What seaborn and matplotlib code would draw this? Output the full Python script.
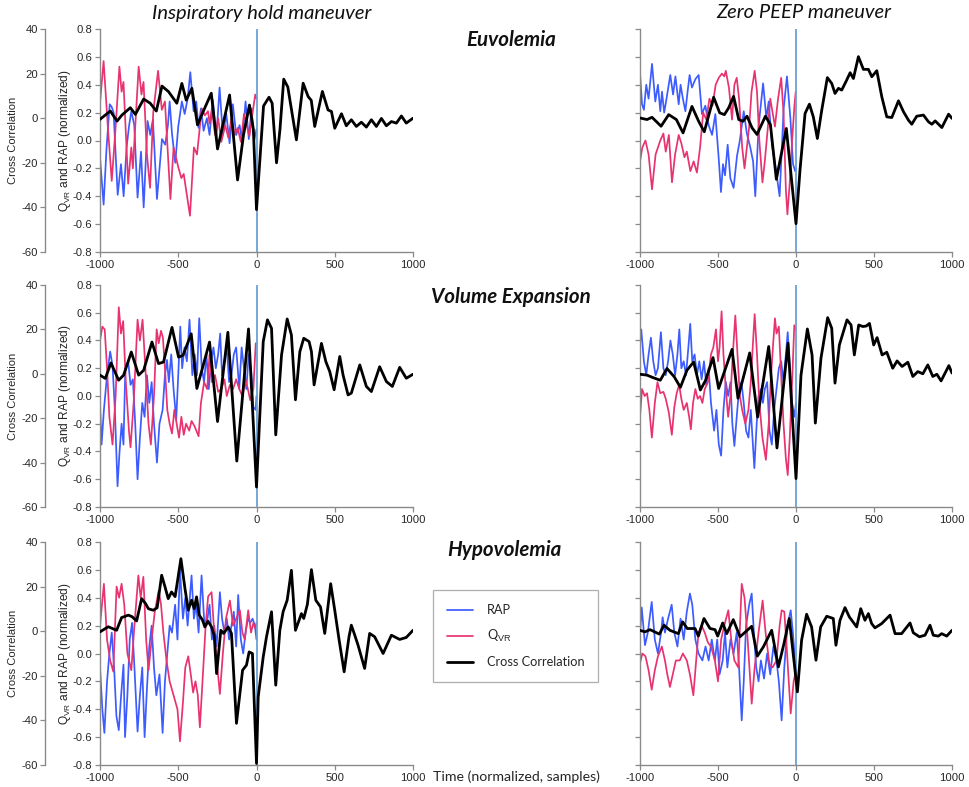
import matplotlib
matplotlib.use("Agg")
import matplotlib.pyplot as plt
import pandas as pd
import seaborn as sns

# ---------------------------------------------------------------------------
# Signals around the maneuver (time in normalized samples, 0 = maneuver onset)
# RAP and Q_VR are normalized (inner axis), cross correlation on outer axis.
# ---------------------------------------------------------------------------

# Euvolemia - inspiratory hold
rap_euv_insp = [(-1000, -0.12), (-977, -0.46), (-958, -0.05), (-938, 0.26), (-925, 0.24), (-913, 0.20),
                (-900, -0.10), (-887, -0.39), (-866, -0.17), (-849, -0.40), (-830, -0.05), (-815, 0.10),
                (-800, 0.21), (-781, 0.11), (-760, -0.41), (-738, -0.08), (-721, -0.48), (-696, 0.14),
                (-679, 0.04), (-662, 0.15), (-636, -0.42), (-604, 0.01), (-583, -0.03), (-566, 0.11),
                (-555, 0.28), (-540, 0.05), (-519, -0.16), (-500, 0.10), (-477, 0.28), (-459, 0.19),
                (-440, 0.30), (-423, 0.49), (-402, 0.21), (-385, 0.28), (-370, 0.09), (-355, 0.23),
                (-338, 0.07), (-317, 0.16), (-300, 0.04), (-279, 0.29), (-257, 0.01), (-236, 0.38),
                (-215, 0.04), (-193, 0.19), (-172, -0.02), (-151, 0.26), (-130, 0.04), (-108, 0.11),
                (-91, -0.02), (-70, 0.28), (-49, 0.01), (-32, 0.23), (-15, 0.00), (0, 0.08)]
qvr_euv_insp = [(-1000, 0.27), (-977, 0.57), (-950, 0.10), (-925, -0.29), (-900, 0.10), (-876, 0.53),
                (-862, 0.35), (-850, 0.42), (-820, -0.31), (-800, -0.05), (-790, -0.20), (-753, 0.53),
                (-735, 0.33), (-722, 0.42), (-700, -0.10), (-680, -0.34), (-660, 0.20), (-629, 0.50),
                (-605, 0.22), (-585, 0.28), (-550, -0.42), (-530, -0.05), (-500, -0.19), (-480, -0.27),
                (-465, -0.24), (-425, -0.54), (-400, -0.05), (-380, -0.10), (-350, 0.23), (-330, 0.18),
                (-310, 0.21), (-300, 0.12), (-285, 0.23), (-265, 0.04), (-245, 0.16), (-225, -0.01),
                (-200, 0.11), (-180, 0.02), (-160, 0.16), (-140, 0.04), (-120, 0.09), (-100, -0.01),
                (-80, 0.19), (-60, 0.10), (-45, 0.03), (-25, 0.20), (-8, 0.33), (0, 0.30)]
cc_euv_insp = [(-1000, -0.5), (-934, 3.2), (-891, -1.3), (-860, 1.4), (-806, 4.7), (-774, 1.7),
               (-721, 8.6), (-679, 6.7), (-640, 3.2), (-604, 14.4), (-562, 11.9), (-509, 6.7),
               (-477, 15.6), (-449, 8.1), (-413, 13.4), (-377, -3.0), (-343, 2.6), (-289, 11.2),
               (-249, -13.8), (-215, -3.0), (-172, 10.4), (-121, -27.7), (-83, -7.5), (-45, 5.9),
               (-20, -5.0), (0, -41.0), (45, 5.5), (80, 9.4), (100, 6.7), (128, -20.0), (150, -5.0),
               (174, 17.5), (200, 14.0), (255, -9.7), (298, 15.7), (330, 9.7), (350, 8.0), (372, -3.7),
               (421, 12.0), (457, 3.7), (479, 3.0), (500, -4.5), (543, 2.0), (574, -3.4), (606, -0.7),
               (638, -3.7), (670, -1.8), (702, -4.0), (734, -0.7), (766, -3.7), (798, -0.1),
               (830, -3.4), (862, -1.5), (894, -2.2), (926, 1.0), (957, -2.2), (1000, 0.0)]

# Euvolemia - zero PEEP
rap_euv_peep = [(-1000, 0.48), (-987, 0.26), (-975, 0.22), (-960, 0.40), (-945, 0.30), (-923, 0.55),
                (-902, 0.28), (-885, 0.40), (-870, 0.21), (-859, 0.35), (-845, 0.20), (-830, 0.30),
                (-806, 0.47), (-788, 0.33), (-773, 0.46), (-752, 0.26), (-740, 0.40), (-725, 0.30),
                (-709, 0.21), (-695, 0.35), (-682, 0.47), (-667, 0.38), (-645, 0.44), (-624, 0.47),
                (-603, 0.19), (-581, 0.25), (-560, 0.11), (-538, 0.04), (-517, 0.19), (-496, -0.12),
                (-481, -0.37), (-468, -0.17), (-455, -0.25), (-438, -0.03), (-421, -0.27), (-400, -0.34),
                (-378, -0.11), (-360, 0.00), (-335, 0.21), (-315, 0.05), (-293, -0.05), (-275, -0.15),
                (-261, -0.40), (-240, 0.10), (-211, 0.41), (-190, 0.16), (-175, 0.28), (-154, -0.03),
                (-130, -0.20), (-105, -0.40), (-79, 0.23), (-58, 0.46), (-36, 0.16), (-19, -0.17),
                (-5, -0.22), (0, -0.20)]
qvr_euv_peep = [(-1000, -0.15), (-985, -0.05), (-965, 0.00), (-945, -0.10), (-923, -0.35), (-900, -0.10),
                (-870, 0.00), (-850, 0.05), (-835, -0.08), (-815, 0.04), (-795, -0.30), (-775, -0.10),
                (-752, 0.04), (-735, -0.02), (-715, -0.12), (-700, -0.08), (-677, -0.22), (-656, -0.15),
                (-635, -0.23), (-615, -0.05), (-595, 0.20), (-575, 0.15), (-555, 0.30), (-535, 0.25),
                (-515, 0.40), (-495, 0.45), (-475, 0.48), (-460, 0.46), (-450, 0.50), (-430, 0.38),
                (-410, 0.15), (-395, 0.40), (-380, 0.45), (-365, 0.30), (-345, -0.05), (-330, -0.20),
                (-315, -0.05), (-300, 0.10), (-285, 0.35), (-265, 0.50), (-250, 0.35), (-235, 0.00),
                (-215, -0.30), (-200, -0.15), (-180, 0.10), (-165, 0.30), (-150, 0.20), (-135, 0.10),
                (-115, 0.30), (-95, 0.45), (-80, 0.20), (-65, -0.35), (-55, -0.53), (-40, -0.30),
                (-25, 0.00), (-10, 0.25), (-2, 0.35)]
cc_euv_peep = [(-1000, 0.1), (-955, -0.6), (-923, 0.4), (-865, -3.6), (-816, 1.6), (-767, -0.6),
               (-724, -6.6), (-667, 5.3), (-624, -1.4), (-588, -6.1), (-528, 9.4), (-489, 2.4),
               (-459, 1.6), (-432, 4.6), (-400, 9.8), (-367, -0.6), (-340, -1.4), (-314, 0.9),
               (-282, -4.3), (-250, -7.3), (-196, 0.9), (-164, -2.9), (-126, -27.4), (-62, -4.6),
               (0, -47.3), (26, -23.0), (58, 2.1), (86, 6.3), (111, 0.6), (137, -9.1), (165, 3.6),
               (201, 18.2), (229, 15.6), (250, 11.1), (272, 13.4), (293, 12.6), (325, 17.1),
               (347, 20.4), (368, 17.8), (400, 27.6), (432, 21.9), (464, 21.9), (486, 18.6),
               (518, 21.3), (550, 9.6), (582, 0.6), (614, 0.3), (657, 7.8), (689, 2.9), (721, -0.9),
               (742, -2.7), (774, 0.9), (817, 1.4), (849, -1.6), (871, -2.7), (892, -1.2),
               (935, -4.2), (978, 1.8), (1000, -0.1)]

# Volume expansion - inspiratory hold
rap_vol_insp = [(-1000, -0.05), (-990, -0.35), (-975, -0.10), (-955, 0.15), (-935, 0.32), (-920, 0.22),
                (-905, -0.10), (-888, -0.65), (-875, -0.40), (-862, -0.20), (-850, -0.35), (-838, 0.20),
                (-820, 0.25), (-805, 0.08), (-790, 0.12), (-775, -0.20), (-760, -0.60), (-745, -0.30),
                (-730, -0.05), (-715, -0.15), (-700, 0.15), (-685, -0.05), (-670, 0.10), (-655, -0.20),
                (-636, -0.48), (-620, -0.20), (-600, -0.10), (-585, 0.15), (-572, 0.26), (-560, 0.10),
                (-545, 0.30), (-530, 0.05), (-513, -0.17), (-500, 0.15), (-487, 0.50), (-475, 0.20),
                (-460, 0.35), (-445, 0.25), (-428, 0.55), (-410, 0.15), (-395, 0.30), (-380, 0.15),
                (-366, 0.56), (-350, 0.20), (-335, 0.10), (-320, 0.30), (-305, 0.05), (-290, 0.25),
                (-275, 0.35), (-260, 0.20), (-245, 0.30), (-232, 0.45), (-220, 0.15), (-205, 0.25),
                (-190, 0.35), (-175, 0.10), (-160, 0.15), (-145, 0.30), (-130, 0.35), (-110, 0.05),
                (-95, 0.35), (-80, 0.20), (-65, 0.05), (-50, 0.30), (-35, 0.20), (-20, -0.08),
                (-5, -0.10), (0, 0.00)]
qvr_vol_insp = [(-1000, 0.40), (-985, 0.50), (-970, 0.48), (-955, 0.20), (-940, -0.15), (-920, -0.35),
                (-900, 0.00), (-880, 0.64), (-866, 0.45), (-852, 0.54), (-835, 0.10), (-815, -0.25),
                (-805, -0.37), (-785, -0.05), (-760, 0.55), (-745, 0.40), (-728, 0.55), (-710, 0.20),
                (-690, -0.20), (-675, -0.35), (-655, 0.00), (-638, 0.48), (-625, 0.38), (-610, 0.47),
                (-598, 0.42), (-585, 0.20), (-570, -0.10), (-555, -0.20), (-540, -0.27), (-525, -0.10),
                (-510, -0.20), (-495, -0.30), (-480, -0.15), (-465, -0.28), (-450, -0.20), (-430, -0.25),
                (-415, -0.18), (-395, -0.22), (-370, -0.29), (-355, -0.05), (-335, 0.10), (-315, 0.05),
                (-300, 0.30), (-285, 0.10), (-265, 0.15), (-245, 0.03), (-225, 0.05), (-205, 0.12),
                (-190, 0.00), (-170, 0.08), (-150, 0.05), (-130, 0.12), (-110, 0.05), (-90, 0.00),
                (-70, 0.12), (-55, 0.05), (-40, -0.03), (-20, 0.05), (-5, 0.38), (0, 0.38)]
cc_vol_insp = [(-1000, -0.6), (-966, -2.1), (-930, 4.9), (-881, -2.9), (-849, -0.6), (-800, 9.8),
               (-753, -0.6), (-721, 1.6), (-668, 14.3), (-626, 4.6), (-594, 5.3), (-540, 20.9),
               (-498, 7.5), (-470, 8.3), (-417, 18.0), (-381, -6.6), (-300, 14.3), (-249, -21.5),
               (-183, 18.7), (-126, -39.3), (-51, 20.2), (0, -51.0), (43, 14.5), (70, 24.3),
               (96, 20.5), (123, -27.5), (160, 8.5), (196, 24.7), (223, 17.5), (249, -11.7),
               (277, 10.0), (302, 16.0), (336, 14.5), (351, 10.0), (368, -5.0), (415, 13.7),
               (443, 5.5), (468, 1.0), (496, -7.2), (532, 7.8), (553, -0.5), (585, -9.5), (606, -8.7),
               (660, 4.0), (702, -5.7), (734, -8.0), (787, 3.2), (830, -3.5), (868, -5.7),
               (915, 2.9), (957, -2.0), (1000, -0.2)]

# Volume expansion - zero PEEP
rap_vol_peep = [(-1000, 0.38), (-992, 0.48), (-975, 0.25), (-960, 0.15), (-945, 0.30), (-930, 0.42),
                (-915, 0.25), (-900, 0.15), (-885, 0.20), (-866, 0.46), (-850, 0.20), (-835, 0.15),
                (-820, 0.25), (-805, 0.40), (-790, 0.30), (-775, 0.15), (-760, 0.30), (-748, 0.48),
                (-735, 0.20), (-720, 0.25), (-705, 0.15), (-690, 0.35), (-678, 0.52), (-665, 0.25),
                (-650, 0.30), (-635, 0.15), (-620, 0.25), (-605, 0.12), (-590, 0.25), (-575, 0.08),
                (-560, 0.20), (-545, -0.05), (-525, -0.25), (-510, -0.10), (-495, -0.35), (-480, -0.43),
                (-465, -0.10), (-450, 0.10), (-435, 0.00), (-420, 0.10), (-408, -0.20), (-395, -0.36),
                (-380, -0.15), (-365, 0.05), (-350, 0.10), (-335, -0.05), (-320, -0.25), (-305, -0.30),
                (-290, -0.10), (-267, -0.52), (-252, -0.20), (-240, 0.00), (-225, 0.05), (-212, -0.05),
                (-200, 0.05), (-185, 0.10), (-170, -0.25), (-155, -0.35), (-140, -0.10), (-125, 0.05),
                (-110, 0.20), (-95, 0.25), (-80, 0.10), (-65, 0.30), (-53, 0.46), (-40, 0.20),
                (-25, -0.05), (-10, -0.15), (0, -0.05)]
qvr_vol_peep = [(-1000, -0.15), (-987, 0.05), (-970, 0.00), (-955, 0.02), (-940, -0.10), (-924, -0.30),
                (-905, -0.05), (-888, 0.10), (-870, 0.02), (-850, 0.03), (-835, -0.02), (-815, -0.12),
                (-796, -0.28), (-780, -0.08), (-765, 0.02), (-749, 0.08), (-735, -0.02), (-720, -0.10),
                (-700, -0.05), (-685, -0.15), (-674, -0.24), (-660, -0.05), (-645, 0.05), (-630, -0.02),
                (-615, 0.00), (-600, -0.05), (-585, 0.05), (-565, 0.10), (-545, 0.30), (-530, 0.35),
                (-513, 0.48), (-500, 0.25), (-490, 0.35), (-477, 0.61), (-465, 0.30), (-450, 0.05),
                (-435, -0.15), (-420, 0.00), (-405, 0.30), (-389, 0.58), (-375, 0.30), (-360, 0.00),
                (-345, -0.10), (-325, -0.20), (-305, -0.10), (-290, 0.10), (-275, 0.40), (-265, 0.59),
                (-250, 0.30), (-235, -0.05), (-215, -0.30), (-193, -0.46), (-175, -0.20), (-160, 0.15),
                (-145, 0.40), (-135, 0.56), (-125, 0.45), (-110, 0.50), (-95, 0.15), (-80, -0.20),
                (-65, -0.45), (-53, -0.57), (-40, -0.30), (-25, 0.10), (-11, 0.51), (0, 0.48)]
cc_vol_peep = [(-1000, -0.2), (-955, -0.6), (-917, -1.7), (-870, -2.9), (-827, 2.4), (-780, -1.4),
               (-741, -6.1), (-699, 1.6), (-656, 5.3), (-613, -7.3), (-580, -3.0), (-532, 7.3),
               (-496, -6.6), (-410, 11.0), (-372, -11.0), (-297, 9.4), (-246, -19.5), (-175, 12.3),
               (-122, -33.4), (-51, 13.8), (0, -47.2), (32, -0.6), (73, 20.2), (103, 8.5),
               (124, -22.2), (160, 7.0), (203, 25.3), (229, 20.5), (250, -4.2), (278, 13.0),
               (327, 24.3), (353, 22.0), (374, 8.5), (402, 22.0), (428, 21.3), (450, 21.5),
               (471, 22.7), (498, 13.0), (520, 16.3), (552, 8.5), (582, 9.7), (620, 2.5), (648, 5.8),
               (680, 3.3), (717, 5.2), (749, -1.2), (781, 1.0), (813, 0.0), (845, 4.0), (877, -1.2),
               (903, -0.2), (930, -3.2), (980, 3.7), (1000, 0.3)]

# Hypovolemia - inspiratory hold
rap_hyp_insp = [(-1000, -0.10), (-985, -0.40), (-972, -0.57), (-955, -0.20), (-940, 0.00), (-925, 0.15),
                (-910, -0.10), (-895, -0.45), (-880, -0.55), (-865, -0.30), (-850, -0.08), (-840, -0.60),
                (-825, -0.30), (-810, 0.10), (-795, 0.22), (-780, -0.10), (-760, -0.56), (-745, -0.30),
                (-730, -0.10), (-715, -0.60), (-700, -0.25), (-685, 0.05), (-670, 0.20), (-655, -0.10),
                (-640, -0.30), (-620, -0.15), (-600, -0.57), (-585, -0.20), (-570, 0.00), (-555, 0.20),
                (-540, 0.15), (-520, 0.35), (-505, 0.10), (-489, 0.60), (-470, 0.25), (-455, 0.40),
                (-440, 0.20), (-415, 0.56), (-400, 0.25), (-385, 0.35), (-370, 0.15), (-351, 0.56),
                (-335, 0.25), (-320, 0.20), (-300, 0.35), (-285, 0.10), (-270, 0.20), (-255, 0.05),
                (-234, 0.44), (-220, 0.25), (-205, 0.15), (-190, 0.25), (-175, 0.10), (-160, 0.20),
                (-145, 0.30), (-130, 0.05), (-117, 0.42), (-100, 0.10), (-85, 0.00), (-70, 0.15),
                (-55, 0.25), (-40, 0.22), (-25, 0.25), (-10, 0.20), (0, 0.10)]
qvr_hyp_insp = [(-1000, 0.20), (-975, 0.50), (-955, 0.10), (-935, -0.05), (-915, -0.13), (-894, 0.48),
                (-878, 0.40), (-862, 0.50), (-845, 0.35), (-825, 0.00), (-800, -0.12), (-780, 0.20),
                (-755, 0.56), (-740, 0.40), (-723, 0.55), (-705, 0.10), (-690, -0.12), (-670, 0.10),
                (-650, 0.30), (-625, 0.45), (-610, 0.35), (-595, 0.15), (-575, -0.05), (-555, -0.20),
                (-530, -0.30), (-505, -0.40), (-489, -0.63), (-470, -0.35), (-455, -0.10), (-436, -0.02),
                (-420, -0.15), (-405, -0.28), (-390, -0.20), (-375, -0.30), (-362, -0.53), (-345, -0.20),
                (-325, 0.20), (-309, 0.41), (-287, 0.44), (-270, 0.15), (-250, -0.10), (-234, -0.29),
                (-215, 0.00), (-195, 0.25), (-170, 0.38), (-150, 0.20), (-130, 0.25), (-106, 0.31),
                (-90, 0.15), (-75, 0.10), (-53, 0.31), (-35, 0.15), (-20, 0.22), (-8, 0.18), (0, 0.22)]
cc_hyp_insp = [(-1000, -0.3), (-947, 2.0), (-894, 0.4), (-862, 6.1), (-819, 7.2), (-795, 6.5),
               (-766, 4.6), (-734, 14.6), (-710, 12.5), (-691, 10.1), (-660, 9.4), (-635, 10.5),
               (-606, 25.1), (-585, 20.0), (-564, 14.6), (-543, 17.6), (-520, 15.5), (-483, 32.5),
               (-457, 19.1), (-436, 9.4), (-415, 13.9), (-398, 10.1), (-383, 15.4), (-366, 7.2),
               (-345, 5.0), (-330, 1.9), (-310, 4.5), (-287, 1.9), (-270, -2.0), (-255, -19.0),
               (-228, 0.4), (-210, -1.0), (-181, 1.9), (-160, -1.0), (-128, -41.3), (-89, -17.5),
               (-64, -15.2), (-47, -9.3), (-26, -10.0), (0, -59.3), (11, -29.4), (43, -11.5),
               (64, -2.5), (96, 8.7), (123, -24.2), (149, 0.4), (170, 8.7), (196, 13.9), (223, 27.3),
               (249, 0.4), (272, 4.9), (287, 7.9), (302, 5.7), (325, 12.0), (351, 27.6), (379, 13.9),
               (409, 10.9), (436, -1.0), (474, 21.3), (500, 9.4), (528, -4.0), (560, -18.2),
               (591, -2.5), (606, 2.7), (628, -1.8), (649, -6.3), (691, -16.7), (723, -1.0),
               (755, -2.5), (809, -10.0), (862, -1.8), (915, -3.7), (957, -2.8), (1000, 0.4)]

# Hypovolemia - zero PEEP
rap_hyp_peep = [(-1000, 0.14), (-989, 0.33), (-975, 0.15), (-968, 0.06), (-950, 0.15), (-925, 0.37),
                (-905, 0.10), (-885, 0.00), (-865, 0.15), (-855, 0.26), (-840, 0.15), (-820, 0.25),
                (-797, 0.35), (-780, 0.15), (-760, 0.05), (-740, 0.25), (-720, 0.10), (-700, 0.30),
                (-680, 0.43), (-665, 0.35), (-645, 0.10), (-625, 0.00), (-600, -0.05), (-580, 0.05),
                (-560, -0.05), (-540, 0.10), (-520, -0.05), (-505, 0.10), (-490, -0.15), (-470, -0.05),
                (-455, 0.15), (-440, -0.10), (-420, 0.10), (-400, 0.00), (-380, 0.15), (-365, -0.10),
                (-348, -0.48), (-335, -0.20), (-320, 0.20), (-300, 0.35), (-284, 0.43), (-270, 0.15),
                (-255, -0.10), (-240, -0.20), (-225, -0.05), (-205, -0.18), (-185, 0.00), (-165, -0.15),
                (-145, 0.05), (-125, -0.05), (-110, -0.20), (-92, -0.48), (-75, -0.10), (-55, 0.20),
                (-34, 0.31), (-20, 0.15), (0, -0.14)]
qvr_hyp_peep = [(-1000, -0.07), (-985, 0.00), (-965, -0.02), (-945, -0.12), (-925, -0.26), (-905, -0.12),
                (-885, -0.02), (-860, 0.05), (-840, -0.05), (-825, -0.15), (-808, -0.24), (-790, -0.15),
                (-770, -0.05), (-745, -0.05), (-725, 0.00), (-700, -0.05), (-680, -0.15), (-658, -0.30),
                (-640, -0.05), (-625, 0.15), (-605, 0.20), (-585, 0.15), (-565, 0.08), (-545, 0.05),
                (-520, -0.05), (-500, -0.20), (-480, 0.10), (-460, 0.20), (-434, 0.31), (-415, 0.10),
                (-395, -0.05), (-370, -0.10), (-348, 0.50), (-330, 0.40), (-310, 0.10), (-284, -0.36),
                (-265, -0.10), (-240, 0.15), (-214, 0.38), (-195, 0.15), (-170, -0.08), (-150, -0.10),
                (-125, -0.05), (-105, 0.20), (-92, 0.31), (-75, 0.30), (-60, 0.05), (-34, -0.43),
                (-15, -0.20), (0, -0.12)]
cc_hyp_peep = [(-1000, 0.4), (-968, -0.3), (-936, 0.7), (-876, -1.3), (-846, 2.7), (-808, 0.4),
               (-754, -1.1), (-727, 4.2), (-697, 1.2), (-647, 1.2), (-626, -2.2), (-590, 5.7),
               (-551, 1.2), (-519, 0.7), (-502, -2.2), (-470, 3.7), (-444, -1.1), (-402, 5.2),
               (-359, -2.5), (-284, 2.2), (-248, -11.2), (-209, -7.0), (-156, 0.4), (-113, -16.0),
               (-77, -5.5), (-43, 5.7), (9, -27.2), (36, -4.0), (68, 7.6), (100, 1.9), (128, -13.0),
               (158, 1.9), (197, 6.7), (239, 5.7), (256, -6.3), (282, 4.9), (314, 10.6), (342, 6.4),
               (389, 1.9), (415, 10.1), (442, 4.9), (464, 7.9), (485, 3.4), (506, 1.5), (549, 3.4),
               (603, 7.2), (635, -1.1), (677, -1.1), (731, 3.7), (752, -0.7), (791, -2.5), (827, -1.8),
               (859, 2.7), (880, -1.8), (912, -2.2), (934, -1.1), (966, -2.2), (1000, 0.4)]

row_titles = ["Euvolemia", "Volume Expansion", "Hypovolemia"]
col_titles = ["Inspiratory hold maneuver", "Zero PEEP maneuver"]
x_ticks = [-1000, -500, 0, 500, 1000]
norm_ticks = [-0.8, -0.6, -0.4, -0.2, 0.0, 0.2, 0.4, 0.6, 0.8]
cc_ticks = [-60, -40, -20, 0, 20, 40]

panels = [
    [(rap_euv_insp, qvr_euv_insp, cc_euv_insp), (rap_euv_peep, qvr_euv_peep, cc_euv_peep)],
    [(rap_vol_insp, qvr_vol_insp, cc_vol_insp), (rap_vol_peep, qvr_vol_peep, cc_vol_peep)],
    [(rap_hyp_insp, qvr_hyp_insp, cc_hyp_insp), (rap_hyp_peep, qvr_hyp_peep, cc_hyp_peep)],
]

# ---------------------------------------------------------------------------
sns.set_theme(style="white")
plt.rcParams.update({
    "font.family": ["Liberation Sans", "DejaVu Sans"],
    "axes.unicode_minus": False,
    "mathtext.fontset": "custom",
    "mathtext.rm": "Liberation Sans",
    "mathtext.it": "Liberation Sans:italic",
    "lines.solid_joinstyle": "round",
})

RAP_COLOR = "#3d5cff"
QVR_COLOR = "#e8336f"
CC_COLOR = "#000000"
ONSET_COLOR = "#6b9fd6"
SPINE_COLOR = "#8a8a8a"
TEXT_COLOR = "#262626"
TITLE_FONT = ["Lato", "DejaVu Sans"]

W, H = 969, 787
fig = plt.figure(figsize=(W / 100, H / 100), dpi=100)


def rect(x0, y0, x1, y1):
    return [x0 / W, 1 - y1 / H, (x1 - x0) / W, (y1 - y0) / H]


col_x = [(100, 413), (640, 952)]
row_y = [(29, 252), (285, 507), (542, 765)]


def frame(pairs):
    return pd.DataFrame(pairs, columns=["t", "v"])


handles = None
for r, row in enumerate(panels):
    for c, (rap, qvr, cc) in enumerate(row):
        x0, x1 = col_x[c]
        y0, y1 = row_y[r]
        ax = fig.add_axes(rect(x0, y0, x1, y1))
        sns.lineplot(data=frame(rap), x="t", y="v", ax=ax, color=RAP_COLOR, linewidth=1.25,
                     estimator=None, sort=False, label="RAP")
        sns.lineplot(data=frame(qvr), x="t", y="v", ax=ax, color=QVR_COLOR, linewidth=1.25,
                     estimator=None, sort=False, label="Q$_{\\mathrm{VR}}$")
        ax.axvline(0, color=ONSET_COLOR, linewidth=1.3, zorder=3)
        ax.set_xlim(-1000, 1000)
        ax.set_ylim(-0.8, 0.8)
        ax.set_xticks(x_ticks)
        ax.set_yticks(norm_ticks)
        ax.set_xlabel("")
        ax.set_ylabel("")
        for s in ("top", "right"):
            ax.spines[s].set_visible(False)
        for s in ("left", "bottom"):
            ax.spines[s].set_color(SPINE_COLOR)
            ax.spines[s].set_linewidth(1.0)
        ax.tick_params(axis="both", direction="out", length=3.5, width=0.9, color=SPINE_COLOR,
                       labelsize=8.1, labelcolor=TEXT_COLOR, pad=2, left=True, bottom=True)
        if c == 0:
            ax.set_yticklabels([f"{v:.1f}" for v in norm_ticks])
        else:
            ax.set_yticklabels([])

        ax2 = ax.twinx()
        sns.lineplot(data=frame(cc), x="t", y="v", ax=ax2, color=CC_COLOR, linewidth=2.0,
                     estimator=None, sort=False, label="Cross Correlation")
        ax2.set_ylim(-60, 40)
        ax2.set_xlabel("")
        ax2.set_ylabel("")
        for s in ("top", "right", "bottom"):
            ax2.spines[s].set_visible(False)
        if c == 0:
            ax2.spines["left"].set_visible(True)
            ax2.spines["left"].set_position(("axes", -55 / 313))
            ax2.spines["left"].set_color(SPINE_COLOR)
            ax2.spines["left"].set_linewidth(1.0)
            ax2.yaxis.set_ticks_position("left")
            ax2.yaxis.set_label_position("left")
            ax2.set_yticks(cc_ticks)
            ax2.set_yticklabels([str(v) for v in cc_ticks])
            ax2.tick_params(axis="y", direction="out", length=3.5, width=0.9, color=SPINE_COLOR,
                            labelsize=8.1, labelcolor=TEXT_COLOR, pad=1.5)
            ax2.set_ylabel("Cross Correlation", fontsize=8.0, color=TEXT_COLOR)
            ax2.yaxis.set_label_coords(-0.262, 0.5)
            ax.set_ylabel("Q$_{\\mathrm{VR}}$ and RAP (normalized)", fontsize=8.6, color=TEXT_COLOR)
            ax.yaxis.set_label_coords(-0.085, 0.5)
        else:
            ax2.spines["left"].set_visible(False)
            ax2.set_yticks([])

        if handles is None:
            handles = ax.get_lines()[:2] + ax2.get_lines()[:1]
        for a in (ax, ax2):
            if a.get_legend() is not None:
                a.get_legend().remove()

# Column and row titles
for c, title in enumerate(col_titles):
    cx = [262, 804][c]
    fig.text(cx / W, 1 - 13 / H, title, ha="center", va="center", fontsize=14.5,
             style="italic", family=TITLE_FONT, color="#111111")
for r, title in enumerate(row_titles):
    cx, cy = [(511, 40), (511, 297), (504, 550)][r]
    fig.text(cx / W, 1 - cy / H, title, ha="center", va="center", fontsize=14.8,
             style="italic", weight="bold", family=TITLE_FONT, color="#111111")

leg = fig.legend(handles, ["RAP", "Q$_{\\mathrm{VR}}$", "Cross Correlation"],
                 loc="upper left", bbox_to_anchor=(433 / W, 1 - 590 / H),
                 frameon=True, fancybox=False, edgecolor="#9a9a9a",
                 handlelength=2.0, handletextpad=1.1, labelspacing=0.95, borderpad=1.1,
                 borderaxespad=0.0, prop={"family": TITLE_FONT, "size": 9.2})
leg.get_frame().set_linewidth(0.9)
for t in leg.get_texts():
    t.set_color(TEXT_COLOR)

fig.text(433 / W, 1 - 777 / H, "Time (normalized, samples)", ha="left", va="center",
         fontsize=10.2, family=TITLE_FONT, color=TEXT_COLOR)

fig.savefig("out.png", dpi=100)
